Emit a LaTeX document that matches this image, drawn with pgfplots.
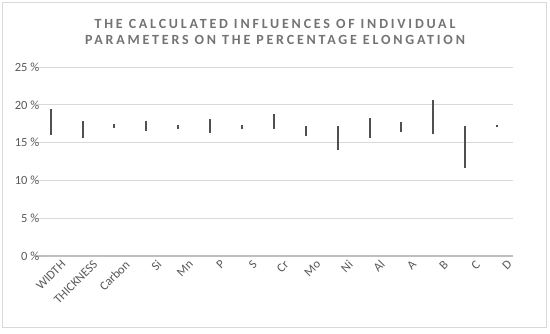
\documentclass[border=0pt]{standalone}
\usepackage{pgfplots}
\pgfplotsset{compat=1.18}
\usepackage{fontspec}
\setmainfont{Carlito}
\newfontfamily\titlefont[LetterSpace=20]{Carlito}
\definecolor{titlegray}{HTML}{737373}
\definecolor{labelgray}{HTML}{595959}
\definecolor{gridgray}{HTML}{D9D9D9}
\definecolor{axisgray}{HTML}{BFBFBF}
\definecolor{linegray}{HTML}{505050}

\begin{document}
\begin{tikzpicture}[x=1pt,y=1pt]
\useasboundingbox (0,0) rectangle (550,333);
\draw[gridgray, line width=1pt] (2,6) rectangle (546,330);
\node[align=center, text=titlegray, font=\titlefont\bfseries\fontsize{14}{16.7}\selectfont]
  at (275,301) {THE CALCULATED INFLUENCES OF INDIVIDUAL\\PARAMETERS ON THE PERCENTAGE ELONGATION};
\begin{axis}[
    at={(50.7pt,77pt)}, anchor=origin,
    scale only axis,
    width=478.3pt, height=189pt,
    xmin=-0.5, xmax=14.5,
    ymin=0, ymax=25,
    ytick={0,5,10,15,20,25},
    yticklabel={\pgfmathprintnumber{\tick}~\%},
    /pgf/number format/assume math mode=true,
    xtick={0,...,14},
    xticklabels={WIDTH,THICKNESS,Carbon,Si,Mn,P,S,Cr,Mo,Ni,Al,A,B,C,D},
    xticklabel style={rotate=45, anchor=north east, yshift=-6pt, xshift=8pt, font=\fontsize{12.5}{14}\selectfont, text=labelgray},
    yticklabel style={font=\fontsize{12.5}{14}\selectfont, text=labelgray, xshift=8pt},
    axis x line*=bottom,
    axis y line*=left,
    y axis line style={draw=none},
    x axis line style={axisgray, line width=1.5pt},
    major tick length=0pt,
    ymajorgrids,
    grid style={gridgray, line width=1pt},
    unbounded coords=jump,
    clip=false,
]
\addplot[linegray, line width=2pt, mark=none] coordinates {
  (0,16.0) (0,19.5) (0,nan)
  (1,15.65) (1,17.8) (1,nan)
  (2,16.9) (2,17.4) (2,nan)
  (3,16.6) (3,17.85) (3,nan)
  (4,16.85) (4,17.3) (4,nan)
  (5,16.3) (5,18.1) (5,nan)
  (6,16.75) (6,17.3) (6,nan)
  (7,16.8) (7,18.75) (7,nan)
  (8,15.9) (8,17.2) (8,nan)
  (9,14.0) (9,17.2) (9,nan)
  (10,15.6) (10,18.25) (10,nan)
  (11,16.35) (11,17.7) (11,nan)
  (12,16.1) (12,20.6) (12,nan)
  (13,11.6) (13,17.15) (13,nan)
  (14,17.0) (14,17.3)
};
\end{axis}
\end{tikzpicture}
\end{document}
